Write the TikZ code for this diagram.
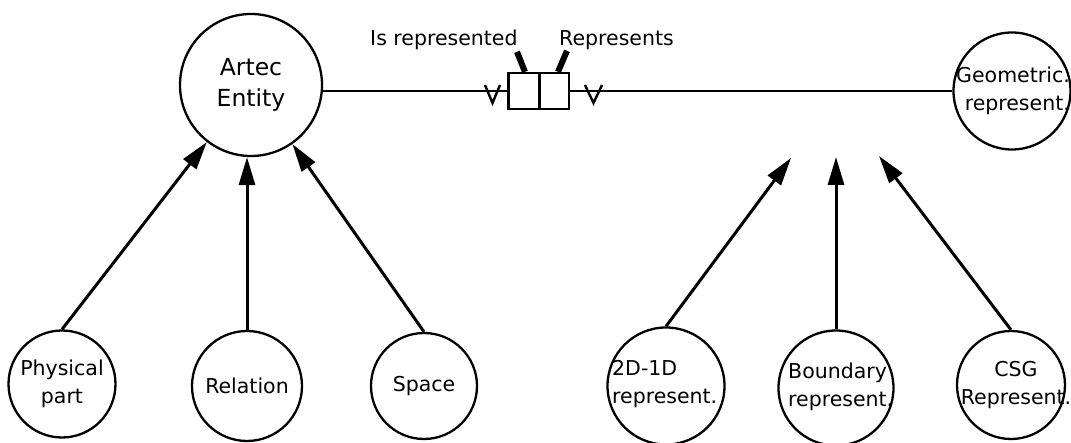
\documentclass[tikz,border=0pt]{standalone}
\usepackage{fontspec}
\setmainfont{DejaVu Sans}
\usetikzlibrary{arrows.meta,calc}
\begin{document}
\begin{tikzpicture}[x=1pt,y=-1pt,
  ent/.style={circle,draw,line width=2.3pt,inner sep=0pt,minimum size=#1},
  txt/.style={inner sep=0pt,font=\fontsize{20.5}{28}\selectfont,align=#1},
  big/.style={inner sep=0pt,font=\fontsize{23.5}{31}\selectfont,align=center},
  isa/.style={line width=3pt,-{Triangle[length=28pt,width=16pt]}},
  rel/.style={line width=2pt},
  half/.style={draw,line width=2.3pt,minimum width=31pt,minimum height=36pt,inner sep=0pt},
  handle/.style={line width=6pt},
  lab/.style={inner sep=0pt,font=\fontsize{20.5}{25}\selectfont,anchor=base west}]
\useasboundingbox (0,0) rectangle (1071,443);
% entities
\node[ent=142pt] (artec) at (251,85) {};
\node[big] (artecT) at (artec) {Artec\\Entity};
\node[ent=117pt] (geo) at (1012,91) {};
\node[txt=right] (geoT) at (1013,91) {Geometric.\\represent.};
\node[ent=107pt] (phys) at (62,384) {};
\node[txt=center] (physT) at (phys) {Physical\\part};
\node[ent=110pt] (relc) at (247,386) {};
\node[txt=center] (relcT) at (relc) {Relation};
\node[ent=106pt] (space) at (424,386) {};
\node[txt=center] (spaceT) at (space) {Space};
\node[ent=117pt] (twod) at (666,386) {};
\node[txt=left,anchor=west] (twodT) at (612,384) {2D-1D\\represent.};
\node[ent=115pt] (bound) at (836,388) {};
\node[txt=left,anchor=west] (boundT) at (788,387) {Boundary\\represent.};
\node[ent=108pt] (csg) at (1011,385) {};
\node[txt=center] (csgT) at (1016,385) {CSG\\Represent.};
% relationship box
\node[half] (boxl) at (524,91) {};
\node[half,minimum width=29pt] (boxr) at (554.5,91) {};
\draw[rel] (boxl.west) -- (boxl.west -| artec.east);
\draw[rel] (boxr.east) -- (boxr.east -| geo.west);
\draw[rel,line width=2.4pt] (485,85) -- (492.5,103) -- (500,85);
\draw[rel,line width=2.4pt] (585,85) -- (593.5,103) -- (602,85);
\draw[handle] ($(boxl.north)+(1,0)$) -- ++(-8,-20);
\draw[handle] ($(boxr.north)+(3.5,0)$) -- ++(9,-21);
\node[lab] (isrep) at (370,46) {Is represented};
\node[lab] (reps) at (559,46) {Represents};
% is-a arrows
\draw[isa] (phys.north) -- (artec);
\draw[isa] (relc.north) -- (relc.north |- artec.south);
\draw[isa] (space.north) -- (artec);
\coordinate (g1) at (791,158);
\coordinate (g2) at (836,157);
\coordinate (g3) at (879,156);
\draw[isa] (twod.north) -- (g1);
\draw[isa] (bound.north) -- (g2);
\draw[isa] (csg.north) -- (g3);
\end{tikzpicture}
\end{document}
